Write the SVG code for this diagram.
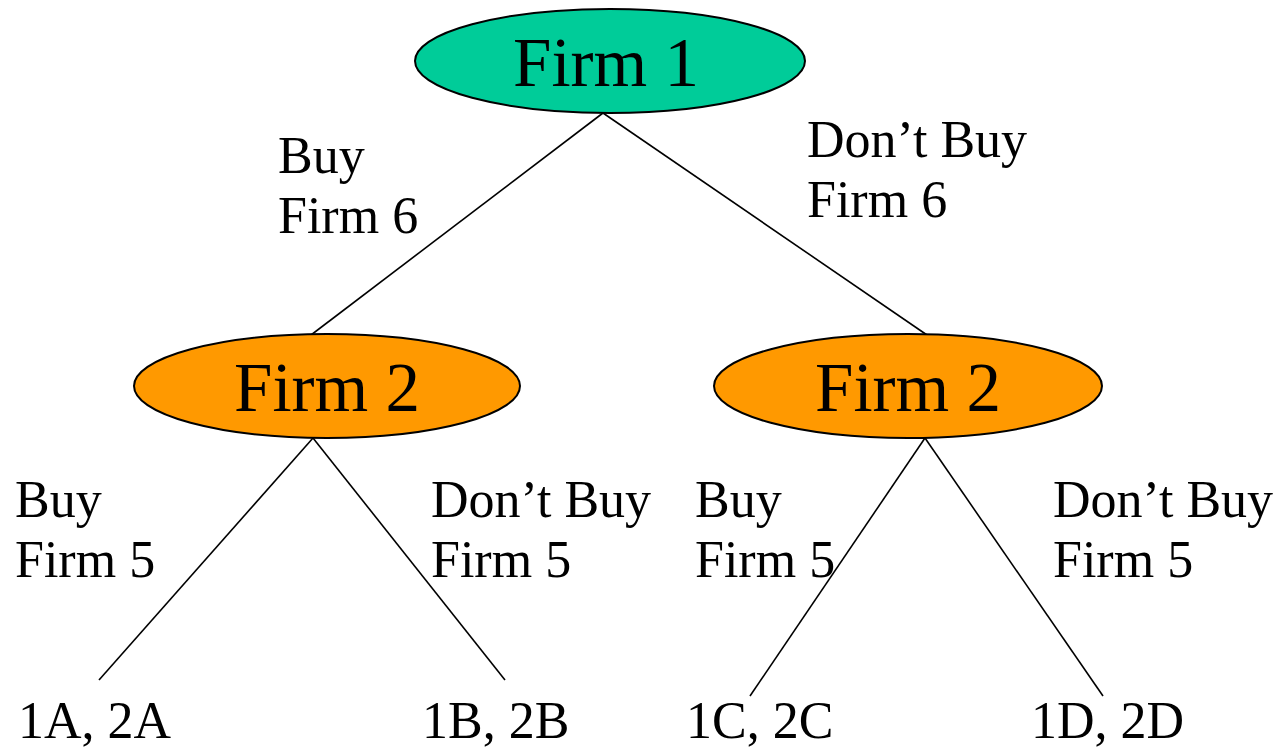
<svg xmlns="http://www.w3.org/2000/svg" width="1280" height="747" viewBox="0 0 1280 747">
<style>
.t{font-family:"Liberation Serif","Times New Roman",serif;fill:#000}
.n{font-size:69px;text-anchor:middle}
.l{font-size:52px}
.e{stroke:#000;stroke-width:2}
.c line{stroke:#000;stroke-width:1.6}
</style>
<rect width="1280" height="747" fill="#fff"/>
<g id="connectors" class="c">
<line x1="603" y1="113" x2="311" y2="335"/>
<line x1="603" y1="113" x2="927" y2="335"/>
<line x1="313" y1="438" x2="99" y2="680"/>
<line x1="313" y1="438" x2="505" y2="680"/>
<line x1="925" y1="438" x2="750" y2="696"/>
<line x1="925" y1="438" x2="1103" y2="696"/>
</g>
<g id="firm1">
<ellipse class="e" cx="610" cy="61" rx="195" ry="52" fill="#00CC99"/>
<text class="t n" x="606" y="86">Firm 1</text>
</g>
<g id="firm2-left">
<ellipse class="e" cx="327" cy="386" rx="193" ry="52" fill="#FF9900"/>
<text class="t n" x="327" y="411">Firm 2</text>
</g>
<g id="firm2-right">
<ellipse class="e" cx="908" cy="386" rx="194" ry="52" fill="#FF9900"/>
<text class="t n" x="908" y="411">Firm 2</text>
</g>
<g id="labels">
<text class="t l" x="278" y="173">Buy</text>
<text class="t l" x="278" y="233">Firm 6</text>
<text class="t l" x="807" y="157">Don’t Buy</text>
<text class="t l" x="807" y="217">Firm 6</text>
<text class="t l" x="15" y="517">Buy</text>
<text class="t l" x="15" y="577">Firm 5</text>
<text class="t l" x="431" y="517">Don’t Buy</text>
<text class="t l" x="431" y="577">Firm 5</text>
<text class="t l" x="695" y="517">Buy</text>
<text class="t l" x="695" y="577">Firm 5</text>
<text class="t l" x="1053" y="517">Don’t Buy</text>
<text class="t l" x="1053" y="577">Firm 5</text>
</g>
<g id="leaf-a"><text class="t l" x="18" y="738">1A, 2A</text></g>
<g id="leaf-b"><text class="t l" x="422" y="738">1B, 2B</text></g>
<g id="leaf-c"><text class="t l" x="686" y="738">1C, 2C</text></g>
<g id="leaf-d"><text class="t l" x="1031" y="738">1D, 2D</text></g>
</svg>
